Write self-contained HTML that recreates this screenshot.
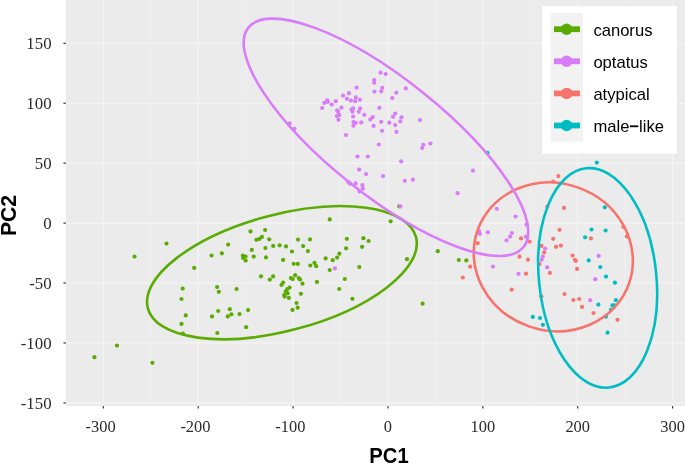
<!DOCTYPE html>
<html><head><meta charset="utf-8"><style>
html,body{margin:0;padding:0;background:#fff;}
body{width:685px;height:463px;overflow:hidden;position:relative;}
svg{position:absolute;left:0;top:0;display:block;will-change:transform;}
.tk{font-family:"Liberation Serif",serif;font-size:17.4px;fill:#2b2b2b;}
.lg{font-family:"Liberation Sans",sans-serif;font-size:16.6px;fill:#000;}
.ti{font-family:"Liberation Sans",sans-serif;font-size:20px;font-weight:bold;fill:#000;}
</style></head><body>
<svg width="685" height="463" viewBox="0 0 685 463">

<rect x="66" y="0" width="624" height="406" fill="#EBEBEB"/>
<line x1="150.78" y1="0" x2="150.78" y2="406" stroke="#F0F0F0" stroke-width="1"/>
<line x1="245.66" y1="0" x2="245.66" y2="406" stroke="#F0F0F0" stroke-width="1"/>
<line x1="340.53" y1="0" x2="340.53" y2="406" stroke="#F0F0F0" stroke-width="1"/>
<line x1="435.41" y1="0" x2="435.41" y2="406" stroke="#F0F0F0" stroke-width="1"/>
<line x1="530.28" y1="0" x2="530.28" y2="406" stroke="#F0F0F0" stroke-width="1"/>
<line x1="625.16" y1="0" x2="625.16" y2="406" stroke="#F0F0F0" stroke-width="1"/>
<line x1="103.35" y1="0" x2="103.35" y2="406" stroke="#F4F4F4" stroke-width="1.2"/>
<line x1="198.22" y1="0" x2="198.22" y2="406" stroke="#F4F4F4" stroke-width="1.2"/>
<line x1="293.10" y1="0" x2="293.10" y2="406" stroke="#F4F4F4" stroke-width="1.2"/>
<line x1="387.97" y1="0" x2="387.97" y2="406" stroke="#F4F4F4" stroke-width="1.2"/>
<line x1="482.85" y1="0" x2="482.85" y2="406" stroke="#F4F4F4" stroke-width="1.2"/>
<line x1="577.72" y1="0" x2="577.72" y2="406" stroke="#F4F4F4" stroke-width="1.2"/>
<line x1="672.60" y1="0" x2="672.60" y2="406" stroke="#F4F4F4" stroke-width="1.2"/>
<line x1="66" y1="402.90" x2="690" y2="402.90" stroke="#F5F5F5" stroke-width="1.1"/>
<line x1="66" y1="342.97" x2="690" y2="342.97" stroke="#F5F5F5" stroke-width="1.1"/>
<line x1="66" y1="283.03" x2="690" y2="283.03" stroke="#F5F5F5" stroke-width="1.1"/>
<line x1="66" y1="223.10" x2="690" y2="223.10" stroke="#F5F5F5" stroke-width="1.1"/>
<line x1="66" y1="163.16" x2="690" y2="163.16" stroke="#F5F5F5" stroke-width="1.1"/>
<line x1="66" y1="103.23" x2="690" y2="103.23" stroke="#F5F5F5" stroke-width="1.1"/>
<line x1="66" y1="43.29" x2="690" y2="43.29" stroke="#F5F5F5" stroke-width="1.1"/>
<circle cx="477.6" cy="243.2" r="2.1" fill="#F7746C"/>
<circle cx="521" cy="238.4" r="2.1" fill="#F7746C"/>
<circle cx="529.7" cy="241.7" r="2.1" fill="#F7746C"/>
<circle cx="519.5" cy="256.7" r="2.1" fill="#F7746C"/>
<circle cx="528" cy="259.7" r="2.1" fill="#F7746C"/>
<circle cx="558.3" cy="176.1" r="2.1" fill="#F7746C"/>
<circle cx="553.1" cy="181.6" r="2.1" fill="#F7746C"/>
<circle cx="547.3" cy="206.5" r="2.1" fill="#F7746C"/>
<circle cx="559.5" cy="229.8" r="2.1" fill="#F7746C"/>
<circle cx="553.2" cy="238.8" r="2.1" fill="#F7746C"/>
<circle cx="556" cy="246.8" r="2.1" fill="#F7746C"/>
<circle cx="560.9" cy="245.6" r="2.1" fill="#F7746C"/>
<circle cx="541.5" cy="245.9" r="2.1" fill="#F7746C"/>
<circle cx="544.2" cy="252.4" r="2.1" fill="#F7746C"/>
<circle cx="470.2" cy="266.7" r="2.1" fill="#F7746C"/>
<circle cx="526" cy="273.7" r="2.1" fill="#F7746C"/>
<circle cx="511.7" cy="289.7" r="2.1" fill="#F7746C"/>
<circle cx="539.6" cy="264" r="2.1" fill="#F7746C"/>
<circle cx="549.9" cy="272.9" r="2.1" fill="#F7746C"/>
<circle cx="541.4" cy="296.3" r="2.1" fill="#F7746C"/>
<circle cx="462.8" cy="277.5" r="2.1" fill="#F7746C"/>
<circle cx="564" cy="207.9" r="2.1" fill="#F7746C"/>
<circle cx="623.4" cy="226.8" r="2.1" fill="#F7746C"/>
<circle cx="590.9" cy="238.3" r="2.1" fill="#F7746C"/>
<circle cx="626.9" cy="236.4" r="2.1" fill="#F7746C"/>
<circle cx="572.5" cy="255.6" r="2.1" fill="#F7746C"/>
<circle cx="575.0" cy="259.8" r="2.1" fill="#F7746C"/>
<circle cx="575.8" cy="260.9" r="2.1" fill="#F7746C"/>
<circle cx="577.1" cy="268.9" r="2.1" fill="#F7746C"/>
<circle cx="564.5" cy="294" r="2.1" fill="#F7746C"/>
<circle cx="573.3" cy="300" r="2.1" fill="#F7746C"/>
<circle cx="579.2" cy="299" r="2.1" fill="#F7746C"/>
<circle cx="582" cy="306.9" r="2.1" fill="#F7746C"/>
<circle cx="593.5" cy="313" r="2.1" fill="#F7746C"/>
<circle cx="617.5" cy="319.8" r="2.1" fill="#F7746C"/>
<circle cx="211.6" cy="255.5" r="2.1" fill="#5AAB03"/>
<circle cx="221.9" cy="253.3" r="2.1" fill="#5AAB03"/>
<circle cx="194.2" cy="267.9" r="2.1" fill="#5AAB03"/>
<circle cx="182.7" cy="288.6" r="2.1" fill="#5AAB03"/>
<circle cx="181.5" cy="299" r="2.1" fill="#5AAB03"/>
<circle cx="185.7" cy="315.4" r="2.1" fill="#5AAB03"/>
<circle cx="181.5" cy="323.9" r="2.1" fill="#5AAB03"/>
<circle cx="182.9" cy="333.5" r="2.1" fill="#5AAB03"/>
<circle cx="217.1" cy="287" r="2.1" fill="#5AAB03"/>
<circle cx="218.8" cy="291.8" r="2.1" fill="#5AAB03"/>
<circle cx="236.6" cy="289" r="2.1" fill="#5AAB03"/>
<circle cx="218.2" cy="311" r="2.1" fill="#5AAB03"/>
<circle cx="212" cy="316.4" r="2.1" fill="#5AAB03"/>
<circle cx="229.8" cy="309.2" r="2.1" fill="#5AAB03"/>
<circle cx="227.8" cy="316.4" r="2.1" fill="#5AAB03"/>
<circle cx="231.4" cy="314.3" r="2.1" fill="#5AAB03"/>
<circle cx="239.5" cy="314.1" r="2.1" fill="#5AAB03"/>
<circle cx="217.3" cy="333" r="2.1" fill="#5AAB03"/>
<circle cx="248.1" cy="310.1" r="2.1" fill="#5AAB03"/>
<circle cx="246.1" cy="327.2" r="2.1" fill="#5AAB03"/>
<circle cx="228.2" cy="244.6" r="2.1" fill="#5AAB03"/>
<circle cx="329.7" cy="219.4" r="2.1" fill="#5AAB03"/>
<circle cx="390.6" cy="221.3" r="2.1" fill="#5AAB03"/>
<circle cx="346.8" cy="238.8" r="2.1" fill="#5AAB03"/>
<circle cx="363.4" cy="238.2" r="2.1" fill="#5AAB03"/>
<circle cx="368.6" cy="241" r="2.1" fill="#5AAB03"/>
<circle cx="346.1" cy="248.3" r="2.1" fill="#5AAB03"/>
<circle cx="362.1" cy="246.8" r="2.1" fill="#5AAB03"/>
<circle cx="339.4" cy="253.7" r="2.1" fill="#5AAB03"/>
<circle cx="337.1" cy="257.6" r="2.1" fill="#5AAB03"/>
<circle cx="325.6" cy="258.4" r="2.1" fill="#5AAB03"/>
<circle cx="332.7" cy="260.2" r="2.1" fill="#5AAB03"/>
<circle cx="329.7" cy="270" r="2.1" fill="#5AAB03"/>
<circle cx="359.3" cy="267.1" r="2.1" fill="#5AAB03"/>
<circle cx="407" cy="259.2" r="2.1" fill="#5AAB03"/>
<circle cx="344.8" cy="279" r="2.1" fill="#5AAB03"/>
<circle cx="339.2" cy="289" r="2.1" fill="#5AAB03"/>
<circle cx="250.5" cy="231.4" r="2.1" fill="#5AAB03"/>
<circle cx="265.1" cy="230" r="2.1" fill="#5AAB03"/>
<circle cx="256.4" cy="239.8" r="2.1" fill="#5AAB03"/>
<circle cx="259.4" cy="238.9" r="2.1" fill="#5AAB03"/>
<circle cx="261.9" cy="236.9" r="2.1" fill="#5AAB03"/>
<circle cx="269.2" cy="239.3" r="2.1" fill="#5AAB03"/>
<circle cx="298" cy="239.6" r="2.1" fill="#5AAB03"/>
<circle cx="310" cy="239.4" r="2.1" fill="#5AAB03"/>
<circle cx="251.8" cy="249.9" r="2.1" fill="#5AAB03"/>
<circle cx="265.4" cy="248" r="2.1" fill="#5AAB03"/>
<circle cx="273.2" cy="245.9" r="2.1" fill="#5AAB03"/>
<circle cx="279.6" cy="245.3" r="2.1" fill="#5AAB03"/>
<circle cx="286" cy="246.4" r="2.1" fill="#5AAB03"/>
<circle cx="303.1" cy="246.1" r="2.1" fill="#5AAB03"/>
<circle cx="292" cy="251.5" r="2.1" fill="#5AAB03"/>
<circle cx="307.9" cy="251.1" r="2.1" fill="#5AAB03"/>
<circle cx="242.9" cy="255.6" r="2.1" fill="#5AAB03"/>
<circle cx="245.5" cy="256.5" r="2.1" fill="#5AAB03"/>
<circle cx="243.1" cy="258" r="2.1" fill="#5AAB03"/>
<circle cx="245.7" cy="260.6" r="2.1" fill="#5AAB03"/>
<circle cx="253.7" cy="256.6" r="2.1" fill="#5AAB03"/>
<circle cx="266" cy="257.4" r="2.1" fill="#5AAB03"/>
<circle cx="283.1" cy="259.9" r="2.1" fill="#5AAB03"/>
<circle cx="293.7" cy="263.8" r="2.1" fill="#5AAB03"/>
<circle cx="297.8" cy="263.9" r="2.1" fill="#5AAB03"/>
<circle cx="310.3" cy="265.5" r="2.1" fill="#5AAB03"/>
<circle cx="314.5" cy="262.9" r="2.1" fill="#5AAB03"/>
<circle cx="316.2" cy="266.2" r="2.1" fill="#5AAB03"/>
<circle cx="261" cy="276.3" r="2.1" fill="#5AAB03"/>
<circle cx="269.8" cy="279.6" r="2.1" fill="#5AAB03"/>
<circle cx="273.1" cy="276.4" r="2.1" fill="#5AAB03"/>
<circle cx="295.1" cy="275.2" r="2.1" fill="#5AAB03"/>
<circle cx="290.9" cy="278.1" r="2.1" fill="#5AAB03"/>
<circle cx="292.8" cy="279.1" r="2.1" fill="#5AAB03"/>
<circle cx="298.7" cy="278.1" r="2.1" fill="#5AAB03"/>
<circle cx="300" cy="279.4" r="2.1" fill="#5AAB03"/>
<circle cx="302.5" cy="283.7" r="2.1" fill="#5AAB03"/>
<circle cx="281.5" cy="284.9" r="2.1" fill="#5AAB03"/>
<circle cx="283.1" cy="282.6" r="2.1" fill="#5AAB03"/>
<circle cx="289.6" cy="287.5" r="2.1" fill="#5AAB03"/>
<circle cx="287.3" cy="289.1" r="2.1" fill="#5AAB03"/>
<circle cx="285.7" cy="291.4" r="2.1" fill="#5AAB03"/>
<circle cx="287.6" cy="293.3" r="2.1" fill="#5AAB03"/>
<circle cx="284.1" cy="295" r="2.1" fill="#5AAB03"/>
<circle cx="284.7" cy="296.6" r="2.1" fill="#5AAB03"/>
<circle cx="288.9" cy="297.9" r="2.1" fill="#5AAB03"/>
<circle cx="300.9" cy="293.8" r="2.1" fill="#5AAB03"/>
<circle cx="316.9" cy="281.9" r="2.1" fill="#5AAB03"/>
<circle cx="296.5" cy="303" r="2.1" fill="#5AAB03"/>
<circle cx="297.7" cy="307.7" r="2.1" fill="#5AAB03"/>
<circle cx="292.5" cy="309.9" r="2.1" fill="#5AAB03"/>
<circle cx="166.5" cy="243.6" r="2.1" fill="#5AAB03"/>
<circle cx="134.5" cy="256.6" r="2.1" fill="#5AAB03"/>
<circle cx="117" cy="345.6" r="2.1" fill="#5AAB03"/>
<circle cx="94.4" cy="357.2" r="2.1" fill="#5AAB03"/>
<circle cx="152.4" cy="362.8" r="2.1" fill="#5AAB03"/>
<circle cx="437.8" cy="251.2" r="2.1" fill="#5AAB03"/>
<circle cx="352.4" cy="298.8" r="2.1" fill="#5AAB03"/>
<circle cx="399.2" cy="206.3" r="2.1" fill="#5AAB03"/>
<circle cx="458.8" cy="260" r="2.1" fill="#5AAB03"/>
<circle cx="466.3" cy="260.4" r="2.1" fill="#5AAB03"/>
<circle cx="422.6" cy="303.7" r="2.1" fill="#5AAB03"/>
<circle cx="487.5" cy="152.9" r="2.1" fill="#00BDC3"/>
<circle cx="532.8" cy="316.9" r="2.1" fill="#00BDC3"/>
<circle cx="540" cy="318" r="2.1" fill="#00BDC3"/>
<circle cx="542.9" cy="324.8" r="2.1" fill="#00BDC3"/>
<circle cx="596.8" cy="162.6" r="2.1" fill="#00BDC3"/>
<circle cx="604.8" cy="207.3" r="2.1" fill="#00BDC3"/>
<circle cx="591.5" cy="229.5" r="2.1" fill="#00BDC3"/>
<circle cx="605.6" cy="230.5" r="2.1" fill="#00BDC3"/>
<circle cx="585.1" cy="237.3" r="2.1" fill="#00BDC3"/>
<circle cx="588.7" cy="260.4" r="2.1" fill="#00BDC3"/>
<circle cx="600.3" cy="267" r="2.1" fill="#00BDC3"/>
<circle cx="606" cy="276.6" r="2.1" fill="#00BDC3"/>
<circle cx="614.9" cy="282.7" r="2.1" fill="#00BDC3"/>
<circle cx="598.4" cy="304.6" r="2.1" fill="#00BDC3"/>
<circle cx="615.9" cy="300.2" r="2.1" fill="#00BDC3"/>
<circle cx="612.4" cy="305.4" r="2.1" fill="#00BDC3"/>
<circle cx="614.3" cy="305.4" r="2.1" fill="#00BDC3"/>
<circle cx="610.9" cy="309.8" r="2.1" fill="#00BDC3"/>
<circle cx="605.9" cy="316.7" r="2.1" fill="#00BDC3"/>
<circle cx="607.5" cy="332.7" r="2.1" fill="#00BDC3"/>
<circle cx="322.1" cy="108" r="2.1" fill="#D87CFA"/>
<circle cx="324.3" cy="102.8" r="2.1" fill="#D87CFA"/>
<circle cx="327.2" cy="100.3" r="2.1" fill="#D87CFA"/>
<circle cx="327.7" cy="102" r="2.1" fill="#D87CFA"/>
<circle cx="331.7" cy="104.6" r="2.1" fill="#D87CFA"/>
<circle cx="335.8" cy="101.2" r="2.1" fill="#D87CFA"/>
<circle cx="337.1" cy="110.3" r="2.1" fill="#D87CFA"/>
<circle cx="338" cy="111.7" r="2.1" fill="#D87CFA"/>
<circle cx="336.9" cy="116" r="2.1" fill="#D87CFA"/>
<circle cx="339.3" cy="114.9" r="2.1" fill="#D87CFA"/>
<circle cx="338.5" cy="119.8" r="2.1" fill="#D87CFA"/>
<circle cx="341.5" cy="107.7" r="2.1" fill="#D87CFA"/>
<circle cx="343" cy="95.6" r="2.1" fill="#D87CFA"/>
<circle cx="346.9" cy="98.8" r="2.1" fill="#D87CFA"/>
<circle cx="349" cy="93.2" r="2.1" fill="#D87CFA"/>
<circle cx="350.9" cy="100.6" r="2.1" fill="#D87CFA"/>
<circle cx="355.2" cy="101.2" r="2.1" fill="#D87CFA"/>
<circle cx="355.8" cy="97.4" r="2.1" fill="#D87CFA"/>
<circle cx="356.6" cy="87.7" r="2.1" fill="#D87CFA"/>
<circle cx="359.9" cy="99.8" r="2.1" fill="#D87CFA"/>
<circle cx="351.5" cy="109.5" r="2.1" fill="#D87CFA"/>
<circle cx="353.1" cy="108.4" r="2.1" fill="#D87CFA"/>
<circle cx="352.5" cy="111.7" r="2.1" fill="#D87CFA"/>
<circle cx="353.1" cy="116.5" r="2.1" fill="#D87CFA"/>
<circle cx="360.1" cy="108.4" r="2.1" fill="#D87CFA"/>
<circle cx="358.8" cy="111.7" r="2.1" fill="#D87CFA"/>
<circle cx="364.4" cy="114.8" r="2.1" fill="#D87CFA"/>
<circle cx="353.6" cy="122.1" r="2.1" fill="#D87CFA"/>
<circle cx="355.8" cy="122.8" r="2.1" fill="#D87CFA"/>
<circle cx="353.4" cy="125.7" r="2.1" fill="#D87CFA"/>
<circle cx="361.2" cy="122.4" r="2.1" fill="#D87CFA"/>
<circle cx="370.3" cy="119.4" r="2.1" fill="#D87CFA"/>
<circle cx="372.8" cy="117.1" r="2.1" fill="#D87CFA"/>
<circle cx="373.6" cy="125.9" r="2.1" fill="#D87CFA"/>
<circle cx="289.7" cy="123.3" r="2.1" fill="#D87CFA"/>
<circle cx="294.4" cy="128.9" r="2.1" fill="#D87CFA"/>
<circle cx="346" cy="135" r="2.1" fill="#D87CFA"/>
<circle cx="357.5" cy="156.5" r="2.1" fill="#D87CFA"/>
<circle cx="367.8" cy="156.5" r="2.1" fill="#D87CFA"/>
<circle cx="380.6" cy="72.7" r="2.1" fill="#D87CFA"/>
<circle cx="385.7" cy="74" r="2.1" fill="#D87CFA"/>
<circle cx="374.2" cy="80" r="2.1" fill="#D87CFA"/>
<circle cx="374.2" cy="82.7" r="2.1" fill="#D87CFA"/>
<circle cx="382.3" cy="87.8" r="2.1" fill="#D87CFA"/>
<circle cx="381.2" cy="91.3" r="2.1" fill="#D87CFA"/>
<circle cx="374.5" cy="91.6" r="2.1" fill="#D87CFA"/>
<circle cx="396.3" cy="92.7" r="2.1" fill="#D87CFA"/>
<circle cx="392.3" cy="98.1" r="2.1" fill="#D87CFA"/>
<circle cx="405.8" cy="88.4" r="2.1" fill="#D87CFA"/>
<circle cx="379.4" cy="107.8" r="2.1" fill="#D87CFA"/>
<circle cx="381.2" cy="121.8" r="2.1" fill="#D87CFA"/>
<circle cx="382" cy="130.8" r="2.1" fill="#D87CFA"/>
<circle cx="389.3" cy="122.7" r="2.1" fill="#D87CFA"/>
<circle cx="395.2" cy="113.5" r="2.1" fill="#D87CFA"/>
<circle cx="393.1" cy="116.7" r="2.1" fill="#D87CFA"/>
<circle cx="401.5" cy="117.3" r="2.1" fill="#D87CFA"/>
<circle cx="400.3" cy="121.3" r="2.1" fill="#D87CFA"/>
<circle cx="395.2" cy="125.1" r="2.1" fill="#D87CFA"/>
<circle cx="396.5" cy="131.9" r="2.1" fill="#D87CFA"/>
<circle cx="420" cy="120.1" r="2.1" fill="#D87CFA"/>
<circle cx="378.8" cy="144.5" r="2.1" fill="#D87CFA"/>
<circle cx="423.3" cy="144.8" r="2.1" fill="#D87CFA"/>
<circle cx="422.2" cy="148" r="2.1" fill="#D87CFA"/>
<circle cx="430.4" cy="143.5" r="2.1" fill="#D87CFA"/>
<circle cx="473" cy="170.7" r="2.1" fill="#D87CFA"/>
<circle cx="457.6" cy="193.2" r="2.1" fill="#D87CFA"/>
<circle cx="401.2" cy="161.4" r="2.1" fill="#D87CFA"/>
<circle cx="359.1" cy="169.6" r="2.1" fill="#D87CFA"/>
<circle cx="366.1" cy="174" r="2.1" fill="#D87CFA"/>
<circle cx="383.1" cy="176.1" r="2.1" fill="#D87CFA"/>
<circle cx="404.8" cy="180.8" r="2.1" fill="#D87CFA"/>
<circle cx="412.9" cy="179.7" r="2.1" fill="#D87CFA"/>
<circle cx="348.6" cy="182.4" r="2.1" fill="#D87CFA"/>
<circle cx="350.2" cy="183.7" r="2.1" fill="#D87CFA"/>
<circle cx="355.6" cy="183.4" r="2.1" fill="#D87CFA"/>
<circle cx="362.4" cy="185" r="2.1" fill="#D87CFA"/>
<circle cx="362.9" cy="188.6" r="2.1" fill="#D87CFA"/>
<circle cx="359.5" cy="191.5" r="2.1" fill="#D87CFA"/>
<circle cx="400.4" cy="206.4" r="2.1" fill="#D87CFA"/>
<circle cx="334.9" cy="268.4" r="2.1" fill="#D87CFA"/>
<circle cx="496.8" cy="208.8" r="2.1" fill="#D87CFA"/>
<circle cx="479.0" cy="231.0" r="2.1" fill="#D87CFA"/>
<circle cx="515.5" cy="216.6" r="2.1" fill="#D87CFA"/>
<circle cx="526.5" cy="224.7" r="2.1" fill="#D87CFA"/>
<circle cx="479.9" cy="233.8" r="2.1" fill="#D87CFA"/>
<circle cx="487.9" cy="232.3" r="2.1" fill="#D87CFA"/>
<circle cx="511.9" cy="233" r="2.1" fill="#D87CFA"/>
<circle cx="510.1" cy="236.6" r="2.1" fill="#D87CFA"/>
<circle cx="506.5" cy="240.3" r="2.1" fill="#D87CFA"/>
<circle cx="525.9" cy="236.6" r="2.1" fill="#D87CFA"/>
<circle cx="545.2" cy="248.6" r="2.1" fill="#D87CFA"/>
<circle cx="542.8" cy="256.6" r="2.1" fill="#D87CFA"/>
<circle cx="493" cy="266.6" r="2.1" fill="#D87CFA"/>
<circle cx="518.5" cy="273.9" r="2.1" fill="#D87CFA"/>
<circle cx="541.7" cy="259.8" r="2.1" fill="#D87CFA"/>
<circle cx="547.1" cy="267.3" r="2.1" fill="#D87CFA"/>
<circle cx="598.7" cy="255.9" r="2.1" fill="#D87CFA"/>
<circle cx="595.3" cy="279.2" r="2.1" fill="#D87CFA"/>
<circle cx="590.2" cy="300.2" r="2.1" fill="#D87CFA"/>
<ellipse cx="553.29" cy="256.88" rx="80.28" ry="73.64" transform="rotate(19.27 553.29 256.88)" fill="none" stroke="#F7746C" stroke-width="2.6"/>
<ellipse cx="281.93" cy="272.65" rx="138.72" ry="58.15" transform="rotate(-14.89 281.93 272.65)" fill="none" stroke="#5AAB03" stroke-width="2.6"/>
<ellipse cx="597.66" cy="277.92" rx="58.69" ry="110.19" transform="rotate(-5.97 597.66 277.92)" fill="none" stroke="#00BDC3" stroke-width="2.6"/>
<ellipse cx="385.96" cy="137.31" rx="175.97" ry="58.07" transform="rotate(38.56 385.96 137.31)" fill="none" stroke="#D87CFA" stroke-width="2.6"/>
<line x1="63.4" y1="402.90" x2="66" y2="402.90" stroke="#333" stroke-width="1.1"/>
<text class="tk" transform="translate(51.6 408.90) scale(0.967 1)" text-anchor="end">-150</text>
<line x1="63.4" y1="342.97" x2="66" y2="342.97" stroke="#333" stroke-width="1.1"/>
<text class="tk" transform="translate(51.6 348.97) scale(0.967 1)" text-anchor="end">-100</text>
<line x1="63.4" y1="283.03" x2="66" y2="283.03" stroke="#333" stroke-width="1.1"/>
<text class="tk" transform="translate(51.6 289.03) scale(0.967 1)" text-anchor="end">-50</text>
<line x1="63.4" y1="223.10" x2="66" y2="223.10" stroke="#333" stroke-width="1.1"/>
<text class="tk" transform="translate(51.6 229.10) scale(0.967 1)" text-anchor="end">0</text>
<line x1="63.4" y1="163.16" x2="66" y2="163.16" stroke="#333" stroke-width="1.1"/>
<text class="tk" transform="translate(51.6 169.16) scale(0.967 1)" text-anchor="end">50</text>
<line x1="63.4" y1="103.23" x2="66" y2="103.23" stroke="#333" stroke-width="1.1"/>
<text class="tk" transform="translate(51.6 109.23) scale(0.967 1)" text-anchor="end">100</text>
<line x1="63.4" y1="43.29" x2="66" y2="43.29" stroke="#333" stroke-width="1.1"/>
<text class="tk" transform="translate(51.6 49.29) scale(0.967 1)" text-anchor="end">150</text>
<line x1="103.35" y1="406" x2="103.35" y2="408.6" stroke="#333" stroke-width="1.1"/>
<text class="tk" style="font-size:17.2px" transform="translate(100.55 432.0) scale(0.955 1)" text-anchor="middle">-300</text>
<line x1="198.22" y1="406" x2="198.22" y2="408.6" stroke="#333" stroke-width="1.1"/>
<text class="tk" style="font-size:17.2px" transform="translate(195.42 432.0) scale(0.955 1)" text-anchor="middle">-200</text>
<line x1="293.10" y1="406" x2="293.10" y2="408.6" stroke="#333" stroke-width="1.1"/>
<text class="tk" style="font-size:17.2px" transform="translate(290.30 432.0) scale(0.955 1)" text-anchor="middle">-100</text>
<line x1="387.97" y1="406" x2="387.97" y2="408.6" stroke="#333" stroke-width="1.1"/>
<text class="tk" style="font-size:17.2px" transform="translate(387.97 432.0) scale(0.955 1)" text-anchor="middle">0</text>
<line x1="482.85" y1="406" x2="482.85" y2="408.6" stroke="#333" stroke-width="1.1"/>
<text class="tk" style="font-size:17.2px" transform="translate(482.85 432.0) scale(0.955 1)" text-anchor="middle">100</text>
<line x1="577.72" y1="406" x2="577.72" y2="408.6" stroke="#333" stroke-width="1.1"/>
<text class="tk" style="font-size:17.2px" transform="translate(577.72 432.0) scale(0.955 1)" text-anchor="middle">200</text>
<line x1="672.60" y1="406" x2="672.60" y2="408.6" stroke="#333" stroke-width="1.1"/>
<text class="tk" style="font-size:17.2px" transform="translate(672.60 432.0) scale(0.955 1)" text-anchor="middle">300</text>
<text class="ti" style="font-size:22px" transform="translate(389 463.4) scale(0.919 1)" text-anchor="middle">PC1</text>
<text class="ti" style="font-size:21.2px" transform="translate(15.6 215.5) rotate(-90)" text-anchor="middle">PC2</text>
<rect x="542" y="6.2" width="135" height="147.5" fill="#fff"/>
<rect x="550.6" y="13" width="32.3" height="128.5" fill="#F2F2F2"/>
<line x1="554" y1="29.20" x2="580" y2="29.20" stroke="#5AAB03" stroke-width="5.8"/>
<circle cx="566.6" cy="29.20" r="5.7" fill="#5AAB03"/>
<text class="lg" x="593.4" y="35.70">canorus</text>
<line x1="554" y1="61.30" x2="580" y2="61.30" stroke="#D87CFA" stroke-width="5.8"/>
<circle cx="566.6" cy="61.30" r="5.7" fill="#D87CFA"/>
<text class="lg" x="593.4" y="67.80">optatus</text>
<line x1="554" y1="93.40" x2="580" y2="93.40" stroke="#F7746C" stroke-width="5.8"/>
<circle cx="566.6" cy="93.40" r="5.7" fill="#F7746C"/>
<text class="lg" x="593.4" y="99.90">atypical</text>
<line x1="554" y1="125.50" x2="580" y2="125.50" stroke="#00BDC3" stroke-width="5.8"/>
<circle cx="566.6" cy="125.50" r="5.7" fill="#00BDC3"/>
<text class="lg" x="593.4" y="132.00">male<tspan font-weight="bold">−</tspan>like</text>
</svg></body></html>
